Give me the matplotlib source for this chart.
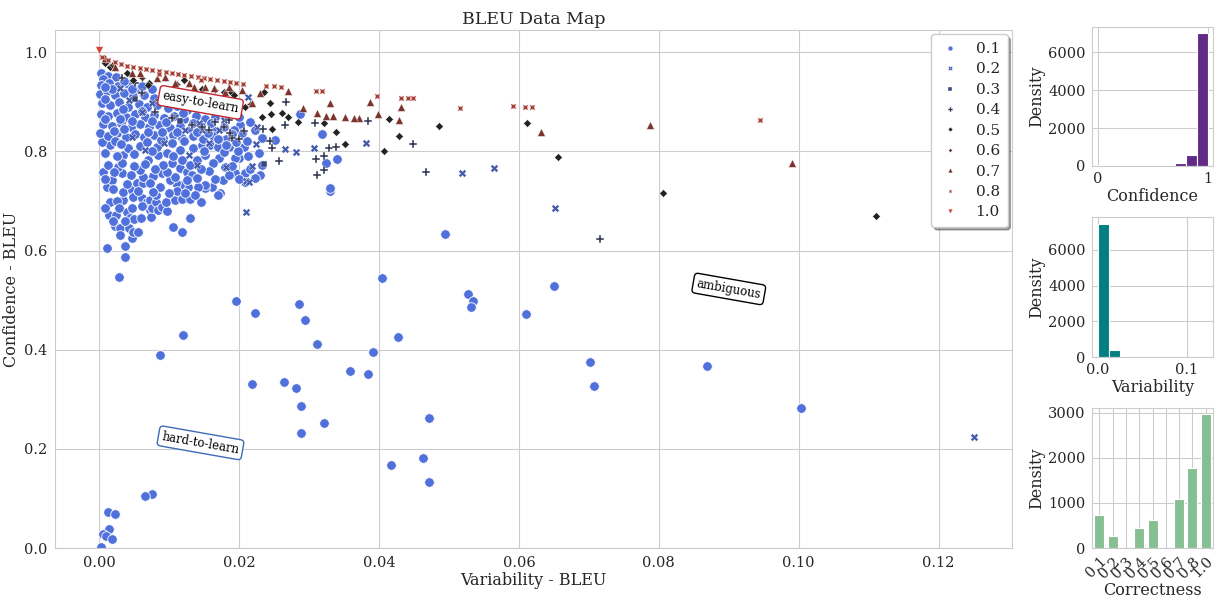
import numpy as np
import matplotlib
matplotlib.use("Agg")
import matplotlib.pyplot as plt
from matplotlib.lines import Line2D
import seaborn as sns

# correctness classes, marker per class (seaborn default style markers)
classes = ["0.1", "0.2", "0.3", "0.4", "0.5", "0.6", "0.7", "0.8", "1.0"]
markers = ["o", "X", (4, 0, 45), "P", (4, 0, 0), (4, 1, 0), "^", (4, 1, 45), "v"]

# (variability, confidence) points, one list per class
pts_01 = [
    # sparse, hard-to-learn / ambiguous
    (0.1003, 0.283), (0.0869, 0.367), (0.0702, 0.375), (0.0708, 0.327), (0.0610, 0.471),
    (0.0650, 0.528), (0.0527, 0.512), (0.0535, 0.498), (0.0532, 0.486), (0.0494, 0.633),
    (0.0404, 0.544), (0.0427, 0.425), (0.0392, 0.395), (0.0359, 0.357), (0.0384, 0.350),
    (0.0463, 0.181), (0.0472, 0.262), (0.0471, 0.133), (0.0417, 0.167), (0.0322, 0.252),
    (0.0312, 0.411), (0.0295, 0.460), (0.0285, 0.492), (0.0282, 0.322), (0.0264, 0.335),
    (0.0288, 0.286), (0.0288, 0.232), (0.0223, 0.473), (0.0196, 0.498), (0.0218, 0.330),
    (0.0120, 0.429), (0.0087, 0.389), (0.0076, 0.109), (0.0066, 0.105), (0.0013, 0.073),
    (0.0023, 0.068), (0.0014, 0.038), (0.0006, 0.029), (0.0010, 0.024), (0.0019, 0.019),
    (0.0003, 0.002), (0.0011, 0.605), (0.0037, 0.586), (0.0029, 0.546), (0.0037, 0.609),
    # mid band
    (0.0287, 0.875), (0.0318, 0.835), (0.0340, 0.784), (0.0325, 0.776), (0.0330, 0.720),
    (0.0330, 0.726), (0.0207, 0.808), (0.0200, 0.786), (0.0228, 0.796), (0.0233, 0.772),
    (0.0230, 0.752), (0.0223, 0.746), (0.0208, 0.756), (0.0194, 0.756), (0.0180, 0.768),
    (0.0171, 0.786), (0.0185, 0.808), (0.0173, 0.716), (0.0161, 0.728), (0.0151, 0.726),
    (0.0208, 0.738), (0.0201, 0.853), (0.0204, 0.837), (0.0223, 0.843), (0.0233, 0.827),
    (0.0251, 0.823), (0.0177, 0.742), (0.0194, 0.786),
    # dense lower-left
    (0.0009, 0.796), (0.0006, 0.758), (0.0011, 0.728), (0.0013, 0.772), (0.0019, 0.742),
    (0.0016, 0.698), (0.0014, 0.671), (0.0023, 0.649), (0.0030, 0.645), (0.0030, 0.631),
    (0.0024, 0.671), (0.0034, 0.702), (0.0034, 0.718), (0.0033, 0.756), (0.0027, 0.768),
    (0.0034, 0.792), (0.0033, 0.776), (0.0047, 0.722), (0.0040, 0.677), (0.0047, 0.685),
    (0.0044, 0.665), (0.0043, 0.645), (0.0047, 0.625), (0.0049, 0.637), (0.0056, 0.637),
    (0.0050, 0.663), (0.0060, 0.665), (0.0049, 0.708), (0.0061, 0.706), (0.0054, 0.736),
    (0.0063, 0.736), (0.0068, 0.698), (0.0073, 0.702), (0.0073, 0.681), (0.0074, 0.667),
    (0.0075, 0.685), (0.0081, 0.698), (0.0081, 0.712), (0.0084, 0.681), (0.0090, 0.688),
    (0.0097, 0.679), (0.0096, 0.698), (0.0108, 0.702), (0.0118, 0.704), (0.0130, 0.704),
    (0.0130, 0.665), (0.0106, 0.647), (0.0118, 0.637), (0.0146, 0.698), (0.0151, 0.732),
    (0.0141, 0.728), (0.0127, 0.728), (0.0116, 0.732), (0.0110, 0.736), (0.0101, 0.742),
    (0.0090, 0.756), (0.0077, 0.750), (0.0063, 0.748), (0.0073, 0.736), (0.0087, 0.728),
    (0.0077, 0.718), (0.0058, 0.762), (0.0070, 0.782), (0.0084, 0.792), (0.0097, 0.796),
    (0.0104, 0.776), (0.0116, 0.766), (0.0126, 0.758), (0.0133, 0.752), (0.0140, 0.746),
    (0.0108, 0.748), (0.0097, 0.758), (0.0118, 0.782), (0.0116, 0.802), (0.0134, 0.806),
    (0.0147, 0.812), (0.0158, 0.812), (0.0170, 0.808), (0.0170, 0.712), (0.0130, 0.772),
    (0.0140, 0.782), (0.0083, 0.808), (0.0058, 0.810), (0.0041, 0.806), (0.0016, 0.812),
    (0.0004, 0.818),
    (0.0152, 0.792), (0.0163, 0.776), (0.0157, 0.760), (0.0145, 0.765), (0.0165, 0.745),
    (0.0185, 0.752), (0.0190, 0.770), (0.0178, 0.798), (0.0198, 0.800), (0.0213, 0.790),
    (0.0215, 0.765), (0.0200, 0.745), (0.0125, 0.742), (0.0112, 0.720), (0.0100, 0.715),
    (0.0123, 0.715), (0.0137, 0.712), (0.0092, 0.772), (0.0080, 0.765), (0.0065, 0.775),
    (0.0050, 0.770), (0.0045, 0.752), (0.0021, 0.758), (0.0008, 0.745), (0.0020, 0.725),
    (0.0026, 0.700), (0.0008, 0.685), (0.0028, 0.685), (0.0037, 0.660), (0.0020, 0.660),
    (0.0062, 0.690), (0.0056, 0.720), (0.0040, 0.735), (0.0025, 0.790), (0.0050, 0.795),
    (0.0075, 0.800), (0.0105, 0.790), (0.0150, 0.800),
    # dense upper-left
    (0.0003, 0.958), (0.0012, 0.952), (0.0024, 0.949), (0.0006, 0.945),
    (0.0002, 0.934), (0.0014, 0.937), (0.0027, 0.931), (0.0041, 0.935), (0.0055, 0.926),
    (0.0001, 0.916), (0.0011, 0.921), (0.0023, 0.913), (0.0036, 0.918), (0.0049, 0.911),
    (0.0064, 0.914), (0.0078, 0.908), (0.0091, 0.905),
    (0.0004, 0.897), (0.0016, 0.893), (0.0029, 0.899), (0.0042, 0.890), (0.0057, 0.896),
    (0.0069, 0.889), (0.0083, 0.893), (0.0098, 0.887), (0.0112, 0.891), (0.0126, 0.884),
    (0.0002, 0.876), (0.0013, 0.872), (0.0026, 0.878), (0.0039, 0.870), (0.0052, 0.875),
    (0.0066, 0.869), (0.0079, 0.874), (0.0093, 0.868), (0.0107, 0.872), (0.0121, 0.866),
    (0.0138, 0.871), (0.0152, 0.865), (0.0166, 0.869),
    (0.0005, 0.856), (0.0018, 0.852), (0.0031, 0.858), (0.0045, 0.850), (0.0058, 0.855),
    (0.0072, 0.849), (0.0086, 0.854), (0.0101, 0.847), (0.0115, 0.852), (0.0131, 0.846),
    (0.0146, 0.851), (0.0161, 0.845), (0.0178, 0.850), (0.0193, 0.844),
    (0.0001, 0.836), (0.0012, 0.831), (0.0025, 0.837), (0.0038, 0.829), (0.0051, 0.834),
    (0.0064, 0.828), (0.0078, 0.833), (0.0092, 0.827), (0.0106, 0.832), (0.0119, 0.826),
    (0.0134, 0.831), (0.0149, 0.825), (0.0163, 0.830), (0.0181, 0.824),
    (0.0023, 0.821), (0.0031, 0.815), (0.0069, 0.818), (0.0104, 0.816), (0.0122, 0.820),
    (0.0181, 0.812), (0.0195, 0.818), (0.0088, 0.822),
    (0.0008, 0.905), (0.0034, 0.885), (0.0061, 0.882), (0.0009, 0.865), (0.0047, 0.862),
    (0.0095, 0.860), (0.0134, 0.858), (0.0021, 0.842), (0.0070, 0.840), (0.0112, 0.839),
    (0.0156, 0.837), (0.0018, 0.925), (0.0047, 0.925),
    (0.0170, 0.825), (0.0190, 0.835), (0.0212, 0.820), (0.0215, 0.860), (0.0200, 0.870),
    (0.0185, 0.880), (0.0170, 0.888), (0.0155, 0.895), (0.0140, 0.900), (0.0120, 0.905),
    (0.0105, 0.912), (0.0075, 0.925), (0.0062, 0.932), (0.0035, 0.942), (0.0008, 0.930),
    (0.0030, 0.865), (0.0075, 0.862), (0.0120, 0.878), (0.0160, 0.858), (0.0090, 0.840),
    (0.0140, 0.838), (0.0035, 0.845),
]
pts_02 = [
    (0.1251, 0.224), (0.0652, 0.685), (0.0565, 0.766), (0.0518, 0.756), (0.0382, 0.816),
    (0.0307, 0.806), (0.0281, 0.798), (0.0210, 0.677), (0.0210, 0.740), (0.0218, 0.770),
    (0.0224, 0.815), (0.0265, 0.804), (0.0181, 0.768), (0.0225, 0.849),
    (0.0030, 0.927), (0.0043, 0.903), (0.0061, 0.879), (0.0076, 0.897), (0.0093, 0.817),
    (0.0108, 0.869), (0.0123, 0.843), (0.0143, 0.857), (0.0147, 0.843), (0.0157, 0.817),
    (0.0171, 0.843), (0.0178, 0.863), (0.0128, 0.792), (0.0140, 0.772), (0.0066, 0.802),
    (0.0047, 0.829), (0.0213, 0.909), (0.0214, 0.738),
]
pts_03 = [(0.0235, 0.774), (0.0115, 0.862), (0.0052, 0.905)]
pts_04 = [
    (0.0716, 0.623), (0.0467, 0.758), (0.0449, 0.815), (0.0384, 0.861), (0.0308, 0.857),
    (0.0267, 0.899), (0.0265, 0.853), (0.0234, 0.845), (0.0244, 0.821), (0.0247, 0.806),
    (0.0257, 0.780), (0.0310, 0.784), (0.0322, 0.790), (0.0321, 0.762), (0.0312, 0.752),
    (0.0328, 0.806), (0.0338, 0.808), (0.0207, 0.841), (0.0190, 0.827), (0.0200, 0.825),
    (0.0166, 0.859),
    (0.0033, 0.948), (0.0051, 0.938), (0.0061, 0.917), (0.0086, 0.903), (0.0104, 0.867),
    (0.0133, 0.853), (0.0147, 0.849), (0.0165, 0.859), (0.0178, 0.849), (0.0187, 0.837),
    (0.0185, 0.863), (0.0157, 0.843), (0.0080, 0.879), (0.0100, 0.923),
]
pts_05 = [
    (0.1111, 0.669), (0.0806, 0.716), (0.0656, 0.788), (0.0612, 0.857), (0.0486, 0.851),
    (0.0414, 0.865), (0.0429, 0.831), (0.0407, 0.800), (0.0351, 0.815), (0.0338, 0.839),
    (0.0321, 0.857), (0.0284, 0.859), (0.0270, 0.869), (0.0261, 0.877), (0.0245, 0.875),
    (0.0235, 0.919), (0.0247, 0.845), (0.0233, 0.869), (0.0188, 0.919), (0.0209, 0.889),
    (0.0244, 0.897),
    (0.0009, 0.978), (0.0016, 0.970), (0.0040, 0.958), (0.0049, 0.944), (0.0071, 0.938),
    (0.0121, 0.944), (0.0147, 0.925), (0.0178, 0.919), (0.0193, 0.913), (0.0157, 0.907),
    (0.0137, 0.913), (0.0070, 0.933),
]
pts_06 = [(0.0018, 0.975), (0.0062, 0.948), (0.0112, 0.936), (0.0165, 0.924), (0.0215, 0.895)]
pts_07 = [
    (0.0990, 0.776), (0.0788, 0.853), (0.0631, 0.839), (0.0432, 0.889), (0.0429, 0.863),
    (0.0398, 0.875), (0.0387, 0.899), (0.0372, 0.867), (0.0365, 0.867), (0.0352, 0.869),
    (0.0330, 0.897), (0.0312, 0.877), (0.0325, 0.871), (0.0334, 0.871), (0.0292, 0.887),
    (0.0270, 0.921), (0.0230, 0.917), (0.0218, 0.897),
    (0.0009, 0.988), (0.0023, 0.970), (0.0047, 0.958), (0.0058, 0.958), (0.0083, 0.948),
    (0.0094, 0.950), (0.0108, 0.938), (0.0128, 0.938), (0.0136, 0.929), (0.0151, 0.929),
    (0.0164, 0.927), (0.0180, 0.919), (0.0185, 0.929), (0.0204, 0.923),
]
pts_08 = [
    (0.0004, 0.990), (0.0013, 0.984), (0.0022, 0.980), (0.0031, 0.976), (0.0040, 0.973),
    (0.0049, 0.970), (0.0058, 0.968), (0.0067, 0.966), (0.0076, 0.964), (0.0086, 0.962),
    (0.0095, 0.960), (0.0104, 0.958), (0.0113, 0.956), (0.0122, 0.954), (0.0132, 0.952),
    (0.0141, 0.950), (0.0150, 0.948), (0.0159, 0.946), (0.0168, 0.944), (0.0178, 0.942),
    (0.0187, 0.940), (0.0196, 0.938), (0.0205, 0.936), (0.0238, 0.931), (0.0250, 0.931),
    (0.0260, 0.929), (0.0310, 0.921), (0.0318, 0.921), (0.0397, 0.911), (0.0432, 0.907),
    (0.0441, 0.907), (0.0449, 0.907), (0.0516, 0.887), (0.0592, 0.891), (0.0609, 0.889),
    (0.0619, 0.889), (0.0944, 0.863), (0.0085, 0.955), (0.0145, 0.944),
]
pts_10 = [(0.0000, 1.004)]
class_points = [pts_01, pts_02, pts_03, pts_04, pts_05, pts_06, pts_07, pts_08, pts_10]

# histogram counts
conf_edges = np.linspace(0, 1, 11)
conf_counts = [25, 10, 8, 6, 8, 10, 20, 175, 584, 6993]
var_edges = np.linspace(0, 0.1236, 11)
var_counts = [7450, 395, 75, 20, 10, 6, 4, 2, 1, 1]
corr_counts = [733, 270, 0, 449, 621, 0, 1086, 1781, 2962]

sns.set_style("whitegrid")
plt.rcParams["font.family"] = ["DejaVu Serif"]

pal = sns.diverging_palette(260, 15, n=len(classes), sep=10, center="dark")

fig = plt.figure(figsize=(12.15, 5.97), dpi=100)
ax0 = fig.add_axes([0.0453, 0.082, 0.7877, 0.868])

for i, pts in enumerate(class_points):
    arr = np.array(pts)
    size = 48 if markers[i] == "o" else 32
    lw = 0.6 if markers[i] == "o" else 0.3
    ax0.scatter(arr[:, 0], arr[:, 1], marker=markers[i], s=size, color=pal[i],
                edgecolors="white", linewidths=lw, zorder=2 + i * 0.01)

ax0.set_xlim(-0.0063, 0.1305)
ax0.set_ylim(0, 1.045)
ax0.set_xlabel("Variability - BLEU", fontsize=11.5, labelpad=2)
ax0.set_ylabel("Confidence - BLEU", fontsize=11.5, labelpad=3)
ax0.set_title("BLEU Data Map", fontsize=12.5, pad=4)
ax0.tick_params(labelsize=10.5, pad=2)

handles = [Line2D([], [], marker=markers[i], color=pal[i], linestyle="",
                  markersize=3.5, markeredgecolor="white", markeredgewidth=0.3)
           for i in range(len(classes))]
ax0.legend(handles, classes, loc="upper right", fontsize=11, frameon=True,
           fancybox=True, shadow=True, handlelength=1.4, handletextpad=1.0,
           labelspacing=0.42, borderpad=0.5, borderaxespad=0.3)

bb = lambda c: dict(boxstyle="round,pad=0.3", ec=c, lw=1, fc="white")
for text, xy, c in [("ambiguous", (0.704, 0.50), "black"),
                    ("easy-to-learn", (0.152, 0.86), "#c0282d"),
                    ("hard-to-learn", (0.152, 0.203), "#3d6bb8")]:
    ax0.annotate(text, xy=xy, xycoords="axes fraction", fontsize=8.5, color="black",
                 va="center", ha="center", rotation=350, bbox=bb(c), zorder=5)

# side histograms
ax1 = fig.add_axes([0.8988, 0.722, 0.0996, 0.233])
ax1.bar(conf_edges[:-1], conf_counts, width=np.diff(conf_edges), align="edge",
        color="#622a87", edgecolor="white", linewidth=0.8)
ax1.set_xticks([0, 1])
ax1.set_xlabel("Confidence", fontsize=11.5, labelpad=1)
ax1.set_ylabel("Density", fontsize=11.5, labelpad=2)
ax1.set_yticks([0, 2000, 4000, 6000])

ax2 = fig.add_axes([0.8988, 0.402, 0.0996, 0.234])
ax2.bar(var_edges[:-1], var_counts, width=np.diff(var_edges), align="edge",
        color="teal", edgecolor="white", linewidth=0.8)
ax2.set_xticks([0.0, 0.1])
ax2.set_xticklabels(["0.0", "0.1"])
ax2.set_xlabel("Variability", fontsize=11.5, labelpad=1)
ax2.set_ylabel("Density", fontsize=11.5, labelpad=2)
ax2.set_yticks([0, 2000, 4000, 6000])

ax3 = fig.add_axes([0.8988, 0.082, 0.0996, 0.235])
pos = np.arange(len(classes))
ax3.bar(pos, corr_counts, width=0.75, color="#86bf91", edgecolor="white", linewidth=0.8)
ax3.set_xlim(-0.55, 8.55)
ax3.set_xticks(pos)
ax3.set_xticklabels(classes, rotation=45, ha="right", rotation_mode="anchor")
ax3.set_xlabel("Correctness", fontsize=11.5, labelpad=1)
ax3.set_ylabel("Density", fontsize=11.5, labelpad=2)
ax3.set_yticks([0, 1000, 2000, 3000])
ax3.xaxis.grid(True)

for ax in (ax1, ax2, ax3):
    ax.tick_params(labelsize=10.5, pad=1)

fig.savefig("out.png", dpi=100)
